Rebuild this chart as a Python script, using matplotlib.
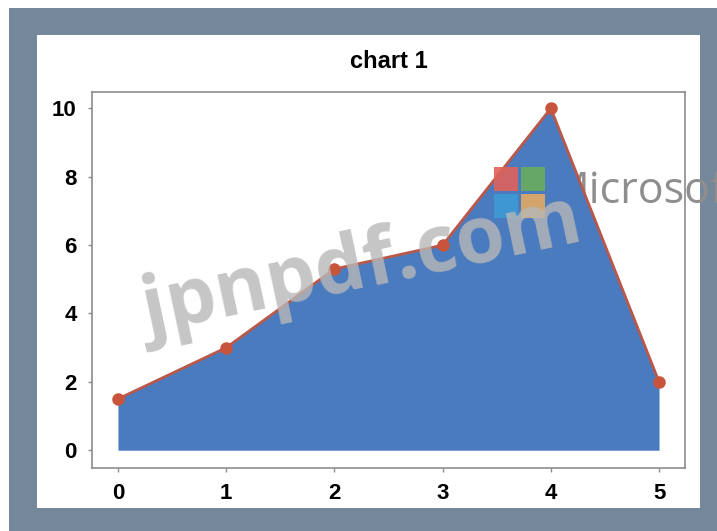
import matplotlib
matplotlib.use("Agg")
import matplotlib.pyplot as plt
from matplotlib.patches import Rectangle

# series for the area chart
x_vals = [0, 1, 2, 3, 4, 5]
y_vals = [1.5, 3.0, 5.3, 6.0, 10.0, 2.0]
y_ticks = [0, 2, 4, 6, 8, 10]
title_text = "chart 1"

FILL_BLUE = "#4a7bbf"
LINE_RED = "#b9574a"
MARKER_RED = "#c8553b"
FRAME_GREY = "#75879a"
SPINE_GREY = "#8c8c8c"

plt.rcParams["font.family"] = ["Liberation Sans", "DejaVu Sans"]

fig = plt.figure(figsize=(7.17, 5.31), dpi=100)
fig.patch.set_facecolor("white")

W, H = 717.0, 531.0

# grey frame and white panel behind the chart
fig.patches.append(Rectangle((9 / W, 0), 708 / W, 523 / H, transform=fig.transFigure,
                             facecolor=FRAME_GREY, edgecolor="none", zorder=0))
fig.patches.append(Rectangle((37 / W, 1 - 508 / H), 663 / W, 473 / H, transform=fig.transFigure,
                             facecolor="white", edgecolor="none", zorder=1))

ax = fig.add_axes([92 / W, 1 - 468 / H, 593 / W, 376 / H])
ax.set_zorder(2)
ax.set_facecolor("white")

ax.fill_between(x_vals, 0, y_vals, color=FILL_BLUE, linewidth=0, zorder=2)
ax.plot(x_vals, y_vals, color=LINE_RED, linewidth=2, zorder=3,
        marker="o", markersize=8, markerfacecolor=MARKER_RED, markeredgecolor=MARKER_RED)

ax.set_xlim(-0.24, 5.24)
ax.set_ylim(-0.52, 10.48)
ax.set_xticks(x_vals)
ax.set_yticks(y_ticks)

for side in ["left", "right", "top", "bottom"]:
    ax.spines[side].set_color(SPINE_GREY)
    ax.spines[side].set_linewidth(1.2)

ax.tick_params(axis="both", length=3, width=1, color=SPINE_GREY, pad=8,
               labelsize=16, labelcolor="black")
for lbl in ax.get_xticklabels() + ax.get_yticklabels():
    lbl.set_fontweight("bold")

fig.text((92 + 685) / 2 / W, 1 - 62 / H, title_text, ha="center", va="center",
         fontsize=17, fontweight="bold", color="black")

# site watermark across the plot
fig.text(362 / W, 1 - 268 / H, "jpnpdf.com", ha="center", va="center",
         rotation=12, fontsize=57, fontweight="bold", family=["Open Sans", "DejaVu Sans"],
         color="#b8b8b8", alpha=0.8, zorder=10)

# vendor logo: the word sits under the area fill, the squares above it
ax.text(551 / W, 1 - 192 / H, "Microsoft", transform=fig.transFigure, ha="left", va="center",
        fontsize=31, family=["Open Sans", "DejaVu Sans"], color="#8e8e8e",
        clip_on=False, zorder=1)
squares = [
    (494, 167, "#e0615a"),
    (521, 167, "#6aab5c"),
    (494, 194, "#3d9ad6"),
    (521, 194, "#e3aa63"),
]
for sx, sy, sc in squares:
    fig.patches.append(Rectangle((sx / W, 1 - (sy + 24) / H), 24 / W, 24 / H,
                                 transform=fig.transFigure, facecolor=sc,
                                 edgecolor="none", alpha=0.9, zorder=5))

fig.savefig("out.png", dpi=100)
